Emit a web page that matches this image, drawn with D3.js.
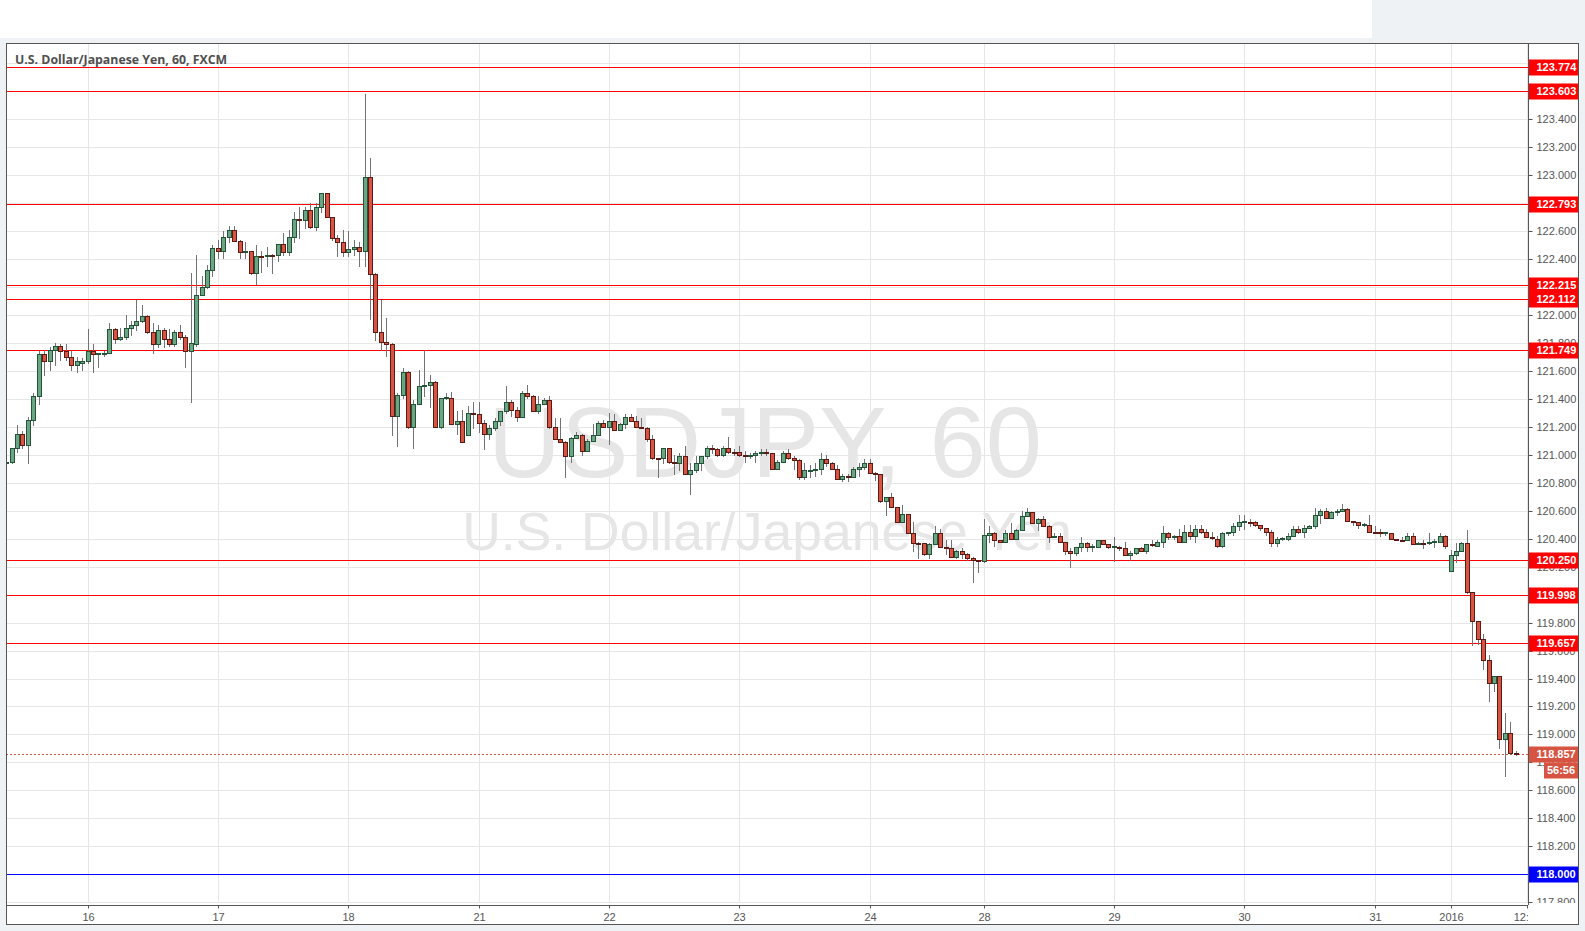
<!DOCTYPE html>
<html><head><meta charset="utf-8">
<script src="https://cdnjs.cloudflare.com/ajax/libs/d3/7.8.5/d3.min.js"></script>
<style>html,body{margin:0;padding:0;background:#eff2f5;overflow:hidden}svg{display:block}</style>
</head><body><svg id="c" width="1585" height="931"></svg>
<script>
// ---- DATA (USD/JPY, 60 min, FXCM) ----
const open = [120.94,120.95,121.05,121.15,121.07,121.25,121.42,121.72,121.67,121.75,121.78,121.74,121.70,121.64,121.66,121.67,121.74,121.72,121.72,121.73,121.90,121.83,121.84,121.91,121.93,121.96,121.99,121.88,121.79,121.89,121.83,121.79,121.88,121.84,121.74,121.79,122.14,122.20,122.32,122.48,122.46,122.56,122.61,122.53,122.45,122.46,122.30,122.42,122.42,122.43,122.43,122.51,122.45,122.56,122.69,122.68,122.75,122.63,122.77,122.87,122.70,122.55,122.52,122.45,122.47,122.49,122.46,122.99,122.29,121.88,121.81,121.79,121.28,121.43,121.59,121.20,121.36,121.49,121.50,121.52,121.20,121.41,121.41,121.22,121.24,121.14,121.30,121.29,121.23,121.15,121.19,121.24,121.31,121.38,121.32,121.27,121.44,121.42,121.31,121.36,121.39,121.20,121.11,121.09,120.99,121.12,121.14,121.03,121.10,121.14,121.23,121.20,121.24,121.18,121.22,121.27,121.24,121.20,121.19,121.11,120.98,120.98,121.05,120.95,120.94,120.99,120.86,120.89,120.94,120.99,121.05,121.04,121.00,121.05,121.02,121.02,121.00,120.99,121.00,121.01,121.02,121.01,120.90,120.95,121.01,120.98,120.96,120.84,120.89,120.89,120.90,120.97,120.94,120.90,120.83,120.85,120.84,120.90,120.91,120.94,120.87,120.86,120.67,120.70,120.63,120.52,120.58,120.44,120.37,120.37,120.29,120.36,120.44,120.34,120.33,120.27,120.31,120.29,120.26,120.25,120.24,120.43,120.44,120.39,120.38,120.44,120.40,120.46,120.56,120.59,120.51,120.54,120.49,120.41,120.42,120.38,120.31,120.30,120.34,120.37,120.34,120.34,120.39,120.36,120.34,120.34,120.33,120.28,120.30,120.33,120.31,120.36,120.35,120.38,120.44,120.41,120.42,120.38,120.45,120.42,120.47,120.45,120.41,120.40,120.35,120.44,120.45,120.49,120.52,120.52,120.52,120.50,120.48,120.45,120.37,120.40,120.40,120.42,120.47,120.45,120.48,120.49,120.57,120.60,120.55,120.59,120.60,120.61,120.53,120.52,120.50,120.50,120.45,120.45,120.44,120.44,120.40,120.39,120.39,120.42,120.36,120.37,120.37,120.38,120.38,120.42,120.17,120.28,120.31,120.37,120.02,119.81,119.68,119.53,119.37,119.42,118.97,119.01,118.87];
const high = [120.96,121.05,121.21,121.17,121.27,121.44,121.74,121.75,121.77,121.80,121.79,121.79,121.74,121.70,121.69,121.90,121.79,121.73,121.74,121.94,121.91,121.91,122.00,121.96,122.11,122.07,122.00,121.94,121.93,121.91,121.90,121.89,121.93,121.86,122.30,122.43,122.28,122.36,122.50,122.54,122.60,122.64,122.64,122.54,122.52,122.46,122.50,122.46,122.49,122.44,122.51,122.59,122.61,122.74,122.77,122.77,122.80,122.80,122.87,122.87,122.70,122.57,122.61,122.60,122.54,122.52,123.58,123.12,122.30,122.11,121.98,121.80,121.44,121.62,121.60,121.39,121.61,121.75,121.57,121.53,121.41,121.44,121.45,121.31,121.32,121.35,121.38,121.38,121.25,121.21,121.26,121.31,121.49,121.39,121.34,121.46,121.50,121.43,121.42,121.41,121.42,121.26,121.26,121.10,121.13,121.16,121.15,121.11,121.22,121.24,121.25,121.30,121.29,121.23,121.29,121.29,121.28,121.26,121.20,121.14,120.98,121.05,121.05,121.00,121.01,121.06,120.94,120.99,120.99,121.06,121.07,121.05,121.06,121.13,121.04,121.06,121.03,121.01,121.03,121.04,121.04,121.01,120.96,121.03,121.04,120.99,120.97,120.94,120.93,120.94,121.01,121.00,120.95,120.93,120.86,120.86,120.91,120.94,120.97,120.97,120.88,120.86,120.70,120.73,120.63,120.64,120.58,120.52,120.38,120.37,120.37,120.49,120.47,120.39,120.39,120.32,120.33,120.30,120.27,120.25,120.54,120.49,120.45,120.39,120.46,120.51,120.47,120.60,120.62,120.59,120.55,120.56,120.50,120.44,120.44,120.38,120.33,120.34,120.41,120.38,120.36,120.39,120.39,120.36,120.41,120.35,120.38,120.31,120.33,120.34,120.36,120.39,120.39,120.49,120.45,120.43,120.47,120.50,120.50,120.50,120.50,120.47,120.45,120.42,120.45,120.45,120.51,120.57,120.57,120.54,120.53,120.50,120.48,120.46,120.41,120.41,120.44,120.49,120.49,120.50,120.50,120.62,120.61,120.62,120.60,120.61,120.65,120.62,120.53,120.52,120.51,120.57,120.49,120.47,120.45,120.44,120.40,120.41,120.44,120.44,120.38,120.39,120.44,120.40,120.44,120.43,120.32,120.37,120.38,120.46,120.02,119.81,119.72,119.57,119.42,119.42,119.15,119.09,118.88];
const low = [120.92,120.94,121.02,121.05,120.94,121.21,121.36,121.57,121.61,121.64,121.68,121.68,121.61,121.59,121.61,121.66,121.59,121.63,121.71,121.73,121.80,121.82,121.83,121.86,121.89,121.95,121.87,121.73,121.77,121.77,121.78,121.78,121.83,121.63,121.38,121.78,122.14,122.19,122.28,122.41,122.41,122.52,122.53,122.41,122.41,122.29,122.22,122.31,122.35,122.30,122.39,122.43,122.43,122.52,122.55,122.62,122.62,122.61,122.74,122.70,122.54,122.42,122.42,122.42,122.43,122.35,122.35,121.97,121.82,121.75,121.71,121.14,121.06,121.41,121.19,121.05,121.36,121.42,121.34,121.20,121.19,121.40,121.22,121.15,121.09,121.14,121.19,121.16,121.04,121.11,121.18,121.21,121.30,121.28,121.24,121.27,121.41,121.31,121.30,121.36,121.19,121.11,121.09,120.84,120.95,121.12,121.00,121.03,121.10,121.14,121.20,121.08,121.18,121.18,121.19,121.24,121.20,121.19,121.10,120.97,120.84,120.94,120.94,120.86,120.89,120.86,120.72,120.88,120.89,120.98,121.01,120.99,120.99,121.01,121.00,120.99,120.95,120.98,120.95,121.00,121.00,120.90,120.90,120.95,120.97,120.90,120.83,120.83,120.84,120.85,120.86,120.92,120.90,120.83,120.81,120.81,120.84,120.85,120.90,120.87,120.82,120.66,120.57,120.63,120.52,120.52,120.44,120.31,120.26,120.28,120.26,120.36,120.34,120.29,120.27,120.26,120.26,120.25,120.09,120.16,120.23,120.38,120.35,120.38,120.38,120.40,120.40,120.46,120.56,120.51,120.46,120.49,120.38,120.41,120.38,120.29,120.20,120.28,120.31,120.31,120.31,120.34,120.36,120.33,120.24,120.32,120.28,120.25,120.29,120.31,120.30,120.35,120.35,120.34,120.40,120.40,120.38,120.38,120.40,120.38,120.44,120.41,120.40,120.34,120.34,120.43,120.43,120.46,120.47,120.49,120.49,120.46,120.43,120.35,120.35,120.39,120.39,120.42,120.44,120.41,120.48,120.48,120.51,120.55,120.55,120.57,120.60,120.53,120.50,120.48,120.49,120.45,120.44,120.42,120.43,120.40,120.39,120.39,120.39,120.36,120.36,120.33,120.36,120.34,120.38,120.33,120.17,120.23,120.31,120.01,119.64,119.65,119.47,119.24,119.31,118.90,118.70,118.86,118.85];
const close = [120.95,121.05,121.15,121.07,121.25,121.42,121.72,121.67,121.75,121.78,121.74,121.70,121.64,121.67,121.67,121.74,121.72,121.725,121.73,121.90,121.83,121.84,121.91,121.93,121.96,121.99,121.88,121.79,121.89,121.83,121.79,121.88,121.84,121.74,121.80,122.14,122.20,122.32,122.48,122.46,122.56,122.61,122.53,122.45,122.46,122.30,122.42,122.415,122.43,122.425,122.51,122.45,122.56,122.69,122.68,122.75,122.63,122.77,122.87,122.70,122.55,122.52,122.45,122.47,122.49,122.46,122.99,122.29,121.88,121.81,121.79,121.28,121.43,121.59,121.20,121.36,121.49,121.50,121.52,121.20,121.41,121.415,121.22,121.24,121.09,121.30,121.29,121.23,121.15,121.19,121.24,121.31,121.38,121.32,121.27,121.44,121.42,121.31,121.36,121.39,121.20,121.11,121.09,120.99,121.12,121.14,121.03,121.10,121.14,121.23,121.20,121.24,121.18,121.22,121.27,121.24,121.20,121.19,121.11,120.98,120.975,121.05,120.95,120.94,120.99,120.86,120.89,120.94,120.99,121.05,121.04,121.00,121.05,121.02,121.015,121.00,120.995,121.00,121.01,121.02,121.01,120.90,120.95,121.01,120.98,120.96,120.84,120.89,120.895,120.90,120.97,120.94,120.90,120.83,120.85,120.845,120.90,120.91,120.94,120.87,120.86,120.67,120.70,120.63,120.52,120.58,120.44,120.37,120.365,120.29,120.36,120.44,120.34,120.33,120.27,120.31,120.29,120.26,120.25,120.24,120.43,120.44,120.39,120.38,120.44,120.40,120.46,120.56,120.59,120.51,120.54,120.49,120.41,120.42,120.38,120.31,120.30,120.34,120.37,120.34,120.345,120.39,120.36,120.34,120.345,120.33,120.28,120.30,120.33,120.31,120.36,120.355,120.38,120.44,120.41,120.42,120.38,120.45,120.42,120.47,120.45,120.41,120.405,120.35,120.44,120.45,120.49,120.52,120.525,120.515,120.50,120.48,120.45,120.37,120.40,120.405,120.42,120.47,120.45,120.48,120.49,120.57,120.60,120.55,120.59,120.60,120.61,120.53,120.52,120.50,120.505,120.45,120.445,120.44,120.445,120.40,120.39,120.385,120.42,120.36,120.37,120.365,120.38,120.385,120.42,120.35,120.28,120.31,120.37,120.02,119.81,119.68,119.53,119.37,119.42,118.97,119.01,118.87,118.857];

const dayTickIndex = [15, 39, 63, 87, 111, 135, 159, 180, 204, 228, 252, 266, 280];
const dayTickLabels = ["16","17","18","21","22","23","24","28","29","30","31","2016","12:00"];

const levelValues = [123.774, 123.603, 122.793, 122.215, 122.112, 121.749, 120.250, 119.998, 119.657, 118.000];
const levelIsBlue = [false,false,false,false,false,false,false,false,false,true];

const lastPrice = 118.857;
const countdownText = "56:56";
const titleText = "U.S. Dollar/Japanese Yen, 60, FXCM";
const watermark1 = "USDJPY, 60";
const watermark2 = "U.S. Dollar/Japanese Yen";

// ---- LAYOUT ----
const W = 1585, H = 931;
const PL = 6, PT = 43, PR = 1528, PB = 905, BR = 1578, BB = 924;
const C = {up:"#6ba583", upB:"#225437", dn:"#d75442", dnB:"#5b1a13", wick:"#737375",
           grid:"#e6e6e6", axis:"#555", text:"#555", red:"#ff0000", blue:"#0000ff", last:"#d75442"};
const AX_FONT = "'Liberation Sans', Arial, sans-serif";

const svg = d3.select("#c");
svg.append("rect").attr("width",W).attr("height",H).attr("fill","#eff2f5");
svg.append("rect").attr("x",0).attr("y",0).attr("width",1372).attr("height",38).attr("fill","#fff");
svg.append("rect").attr("x",PL+0.5).attr("y",PT+0.5).attr("width",BR-PL).attr("height",BB-PT)
   .attr("fill","#fff").attr("stroke",C.axis).attr("stroke-width",1);

const x = d3.scaleLinear().domain([0, 278]).range([6.15, 6.15 + 278*5.43]);
const y = d3.scaleLinear().domain([117.8, 123.4]).range([902.2, 119.3]);

const defs = svg.append("defs");
defs.append("clipPath").attr("id","plot").append("rect").attr("x",PL+1).attr("y",PT+1).attr("width",PR-PL-1).attr("height",903-PT-1);
defs.append("clipPath").attr("id","yax").append("rect").attr("x",PR).attr("y",PT+1).attr("width",BR-PR).attr("height",903-PT-1);
defs.append("clipPath").attr("id","xax").append("rect").attr("x",PL+1).attr("y",PB).attr("width",PR-PL-1).attr("height",BB-PB);

const plot = svg.append("g").attr("clip-path","url(#plot)");

// watermark
plot.append("text").attr("x",765).attr("y",477).attr("text-anchor","middle")
  .attr("font-family","'Liberation Sans', Arial, sans-serif").attr("font-size",101)
  .attr("fill","#e6e6e6").text(watermark1);
plot.append("text").attr("x",767).attr("y",550).attr("text-anchor","middle")
  .attr("font-family","'Liberation Sans', Arial, sans-serif").attr("font-size",53.5)
  .attr("fill","#e6e6e6").text(watermark2);

// grid
const yTicks = d3.range(0, 31).map(k => +(117.8 + 0.2*k).toFixed(1));
plot.append("g").selectAll("line").data(yTicks).join("line")
  .attr("x1",PL).attr("x2",PR).attr("y1",d=>Math.round(y(d))+0.5).attr("y2",d=>Math.round(y(d))+0.5)
  .attr("stroke",C.grid);
plot.append("g").selectAll("line").data(dayTickIndex).join("line")
  .attr("x1",d=>Math.round(x(d))+0.5).attr("x2",d=>Math.round(x(d))+0.5).attr("y1",PT).attr("y2",PB)
  .attr("stroke",C.grid);

// level lines
plot.append("g").selectAll("line").data(levelValues).join("line")
  .attr("x1",PL).attr("x2",PR).attr("y1",d=>Math.round(y(d))+0.5).attr("y2",d=>Math.round(y(d))+0.5)
  .attr("stroke",(d,i)=>levelIsBlue[i]?C.blue:C.red).attr("stroke-width",1);

// last price dotted
plot.append("line").attr("x1",PL).attr("x2",PR)
  .attr("y1",Math.round(y(lastPrice))+0.5).attr("y2",Math.round(y(lastPrice))+0.5)
  .attr("stroke",C.last).attr("stroke-dasharray","2,2");

// candles
const data = open.map((o,i)=>({i,o,h:high[i],l:low[i],c:close[i]}));
const cx = d => Math.round(x(d.i));
plot.append("g").selectAll("line").data(data).join("line")
  .attr("x1",d=>cx(d)+0.5).attr("x2",d=>cx(d)+0.5)
  .attr("y1",d=>Math.round(y(d.h))).attr("y2",d=>Math.round(y(d.l))+1)
  .attr("stroke",C.wick);
plot.append("g").selectAll("rect").data(data).join("rect")
  .attr("x",d=>cx(d)-1.5).attr("width",4)
  .attr("y",d=>Math.round(y(Math.max(d.o,d.c)))+0.5)
  .attr("height",d=>Math.max(1, Math.round(y(Math.min(d.o,d.c))) - Math.round(y(Math.max(d.o,d.c)))))
  .attr("fill",d=>d.c>=d.o?C.up:C.dn).attr("stroke",d=>d.c>=d.o?C.upB:C.dnB);

// title
svg.append("text").attr("x",15).attr("y",64).attr("font-family","'Open Sans', sans-serif")
  .attr("font-weight",700).attr("font-size",12.3).attr("fill","#4f4f4f").text(titleText);

// y axis (tick labels fully hidden under a price label are left out, as in the reference)
const allLabelVals = levelValues.concat([lastPrice]);
const visibleTicks = yTicks.filter(t => allLabelVals.every(v => Math.abs(y(v) - y(t)) > 5));
svg.append("line").attr("x1",PR+0.5).attr("x2",PR+0.5).attr("y1",PT).attr("y2",PB).attr("stroke",C.axis);
const yAx = svg.append("g").attr("clip-path","url(#yax)");
yAx.append("g").attr("transform",`translate(${PR+0.5},0)`)
  .call(d3.axisRight(y).tickValues(yTicks).tickFormat(d => visibleTicks.includes(d) ? d3.format(".3f")(d) : "").tickSize(4).tickSizeOuter(0))
  .call(g=>{g.select(".domain").remove();
    g.selectAll("line").attr("stroke",C.axis);
    g.selectAll("text").attr("x",8).attr("font-family",AX_FONT).attr("font-size",11).attr("fill",C.text);});
yAx.selectAll(".tick").attr("transform",d=>`translate(0,${Math.round(y(d))+0.5})`);

// level labels
const lab = yAx.append("g").selectAll("g").data(levelValues).join("g")
  .attr("transform",d=>`translate(${PR+1},${Math.round(y(d))})`);
lab.append("rect").attr("x",0).attr("y",-7.5).attr("width",BR-PR-1).attr("height",16)
  .attr("fill",(d,i)=>levelIsBlue[i]?C.blue:C.red);
lab.append("text").attr("x",7.5).attr("y",0.5).attr("dy","0.35em").attr("font-family",AX_FONT)
  .attr("font-weight","bold").attr("font-size",11).attr("fill","#fff").text(d=>d3.format(".3f")(d));

// last price label + countdown
const ly = Math.round(y(lastPrice));
yAx.append("rect").attr("x",PR+1).attr("y",ly-7.5).attr("width",BR-PR-1).attr("height",16).attr("fill",C.last);
yAx.append("text").attr("x",PR+8.5).attr("y",ly+0.5).attr("dy","0.35em").attr("font-family",AX_FONT)
  .attr("font-weight","bold").attr("font-size",11).attr("fill","#fff").text(d3.format(".3f")(lastPrice));
yAx.append("rect").attr("x",1544).attr("y",ly+8.5).attr("width",BR-1544).attr("height",16).attr("fill",C.last);
yAx.append("text").attr("x",1561).attr("y",ly+16.5).attr("dy","0.35em").attr("text-anchor","middle").attr("font-family",AX_FONT)
  .attr("font-weight","bold").attr("font-size",11).attr("fill","#fff").text(countdownText);

// x axis
svg.append("line").attr("x1",PL).attr("x2",PR).attr("y1",PB+0.5).attr("y2",PB+0.5).attr("stroke",C.axis);
const xAx = svg.append("g").attr("clip-path","url(#xax)");
xAx.append("g").attr("transform",`translate(0,${PB+0.5})`)
  .call(d3.axisBottom(x).tickValues(dayTickIndex).tickFormat((d,i)=>dayTickLabels[i]).tickSize(3).tickSizeOuter(0))
  .call(g=>{g.select(".domain").remove();
    g.selectAll("line").attr("stroke",C.axis);
    g.selectAll("text").attr("y",8).attr("font-family",AX_FONT).attr("font-size",11).attr("fill",C.text);});
xAx.selectAll(".tick").attr("transform",d=>`translate(${Math.round(x(d))+0.5},0)`);
</script></body></html>
